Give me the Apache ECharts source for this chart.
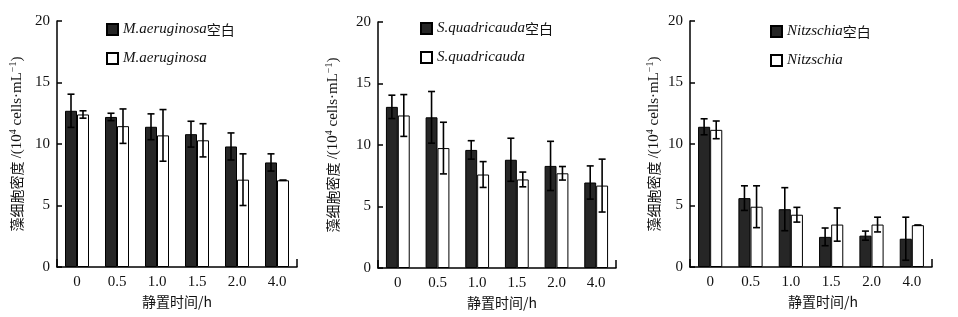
<!DOCTYPE html>
<html>
<head>
<meta charset="utf-8">
<script src="https://cdn.jsdelivr.net/npm/echarts@6/dist/echarts.min.js"></script>
<style>html,body{margin:0;padding:0;background:#fff}#c{width:958px;height:317px}</style>
</head>
<body>
<div id="c"></div>
<script>
const categories = ['0', '0.5', '1.0', '1.5', '2.0', '4.0'];
const yTicks = [0, 5, 10, 15, 20];

const maBlankName = 'M.aeruginosa空白';
const maName = 'M.aeruginosa';
const maBlank = [12.7, 12.2, 11.4, 10.8, 9.8, 8.5];
const maBlankErr = [1.35, 0.3, 1.05, 1.05, 1.1, 0.7];
const ma = [12.4, 11.45, 10.7, 10.3, 7.1, 7.05];
const maErr = [0.3, 1.4, 2.1, 1.35, 2.1, 0];

const sqBlankName = 'S.quadricauda空白';
const sqName = 'S.quadricauda';
const sqBlank = [13.1, 12.25, 9.6, 8.8, 8.3, 6.95];
const sqBlankErr = [0.95, 2.1, 0.75, 1.75, 2.0, 1.35];
const sq = [12.4, 9.75, 7.6, 7.2, 7.7, 6.7];
const sqErr = [1.7, 2.1, 1.05, 0.6, 0.55, 2.15];

const nzBlankName = 'Nitzschia空白';
const nzName = 'Nitzschia';
const nzBlank = [11.4, 5.6, 4.7, 2.45, 2.55, 2.3];
const nzBlankErr = [0.65, 1.0, 1.75, 0.72, 0.37, 1.75];
const nz = [11.15, 4.9, 4.25, 3.45, 3.45, 3.4];
const nzErr = [0.72, 1.7, 0.6, 1.35, 0.6, 0];

const serif = 'Liberation Serif';
const cjk = 'Noto Sans CJK SC';

const panels = [
  {grid: {left: 57, top: 21, width: 240, height: 246}, legend: {left: 106, top: 22}, nameGap: 31, xShift: 0,
   names: [maBlankName, maName], vals: [maBlank, ma], errs: [maBlankErr, maErr]},
  {grid: {left: 378, top: 22, width: 238, height: 246}, legend: {left: 420, top: 21}, nameGap: 36, xShift: 10,
   names: [sqBlankName, sqName], vals: [sqBlank, sq], errs: [sqBlankErr, sqErr]},
  {grid: {left: 690, top: 21, width: 242, height: 246}, legend: {left: 770, top: 24}, nameGap: 27, xShift: 24,
   names: [nzBlankName, nzName], vals: [nzBlank, nz], errs: [nzBlankErr, nzErr]}
];

function errRender(sign) {
  return function (params, api) {
    const x = api.value(0), v = api.value(1), e = api.value(2);
    const band = api.size([1, 0])[0];
    const off = sign * band * 0.15;
    const top = api.coord([x, v + e]);
    const bot = api.coord([x, v - e]);
    const cx = top[0] + off;
    const hw = 3.5;
    const st = {stroke: '#000', lineWidth: 1.6};
    return {type: 'group', children: [
      {type: 'line', shape: {x1: cx, y1: top[1], x2: cx, y2: bot[1]}, style: st},
      {type: 'line', shape: {x1: cx - hw, y1: top[1], x2: cx + hw, y2: top[1]}, style: st},
      {type: 'line', shape: {x1: cx - hw, y1: bot[1], x2: cx + hw, y2: bot[1]}, style: st}
    ]};
  };
}

const option = {
  animation: false,
  backgroundColor: '#fff',
  grid: [], xAxis: [], yAxis: [], series: [], legend: []
};

panels.forEach((p, i) => {
  option.grid.push(Object.assign({containLabel: false}, p.grid));
  option.xAxis.push({
    type: 'category', gridIndex: i, data: categories,
    name: '静置时间/h', nameLocation: 'middle', nameGap: 26,
    nameTextStyle: {fontFamily: cjk, fontSize: 14, color: '#111', padding: [0, 0, 0, p.xShift]},
    axisLine: {lineStyle: {color: '#000', width: 1.5}},
    axisTick: {show: true, inside: true, length: 8, lineStyle: {color: '#000', width: 1.5},
      interval: function (idx) { return idx === categories.length - 1; }},
    axisLabel: {fontFamily: serif, fontSize: 15, color: '#111', margin: 8, interval: 0}
  });
  option.yAxis.push({
    type: 'value', gridIndex: i, min: yTicks[0], max: yTicks[yTicks.length - 1], interval: yTicks[1] - yTicks[0],
    name: '{c|藻细胞密度 }{t|/(10}{s|4}{t| cells·mL}{s|−1}{t|)}',
    nameLocation: 'middle', nameGap: p.nameGap,
    nameTextStyle: {rich: {
      c: {fontFamily: cjk, fontSize: 14, color: '#111', lineHeight: 18},
      t: {fontFamily: serif, fontSize: 15, color: '#111', lineHeight: 18},
      s: {fontFamily: serif, fontSize: 10, color: '#111', verticalAlign: 'top'}
    }},
    axisLine: {show: true, lineStyle: {color: '#000', width: 1.5}},
    axisTick: {show: true, inside: true, length: 5, lineStyle: {color: '#000', width: 1.5}},
    axisLabel: {fontFamily: serif, fontSize: 15, color: '#111', margin: 7},
    splitLine: {show: false}
  });
  option.series.push({
    type: 'bar', name: p.names[0], xAxisIndex: i, yAxisIndex: i, data: p.vals[0],
    barGap: '0%', barCategoryGap: '40%',
    itemStyle: {color: '#262626', borderColor: '#000', borderWidth: 1}
  });
  option.series.push({
    type: 'bar', name: p.names[1], xAxisIndex: i, yAxisIndex: i, data: p.vals[1],
    barGap: '0%', barCategoryGap: '40%',
    itemStyle: {color: '#fff', borderColor: '#000', borderWidth: 1}
  });
  [0, 1].forEach(k => {
    option.series.push({
      type: 'custom', xAxisIndex: i, yAxisIndex: i, z: 10,
      renderItem: errRender(k === 0 ? -1 : 1),
      encode: {x: 0, y: 1},
      data: p.vals[k].map((v, j) => [j, v, p.errs[k][j]])
    });
  });
  option.legend.push({
    left: p.legend.left, top: p.legend.top, orient: 'vertical', padding: 0,
    itemWidth: 11, itemHeight: 11, itemGap: 14, icon: 'rect',
    data: p.names,
    formatter: function (name) {
      return name.endsWith('空白') ? '{i|' + name.slice(0, -2) + '}{c|空白}' : '{i|' + name + '}';
    },
    textStyle: {color: '#111', rich: {
      i: {fontFamily: serif, fontStyle: 'italic', fontSize: 15, color: '#111', lineHeight: 18},
      c: {fontFamily: cjk, fontSize: 14, color: '#111', lineHeight: 18}
    }}
  });
});

const chart = echarts.init(document.getElementById('c'), null, {renderer: 'canvas'});
chart.setOption(option);
</script>
</body>
</html>
